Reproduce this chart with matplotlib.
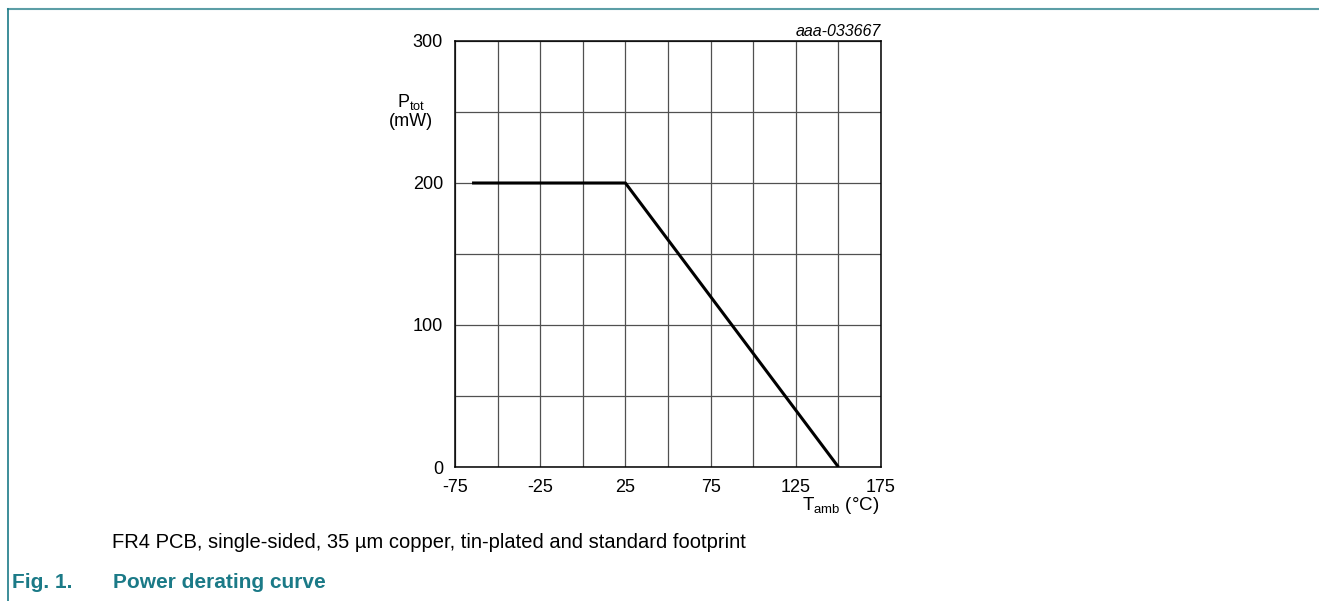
import matplotlib
matplotlib.use("Agg")
import matplotlib.pyplot as plt
from matplotlib.lines import Line2D

plt.rcParams['font.family'] = ['Liberation Sans', 'DejaVu Sans']

# Data
temp_c = [-65, 25, 150]
ptot_mw = [200, 200, 0]
x_ticks = [-75, -25, 25, 75, 125, 175]
y_ticks = [0, 100, 200, 300]
x_grid = [-75, -50, -25, 0, 25, 50, 75, 100, 125, 150, 175]
y_grid = [0, 50, 100, 150, 200, 250, 300]

W, H = 1319, 601
fig = plt.figure(figsize=(W / 100, H / 100), dpi=100)

ax = fig.add_axes([455 / W, 1 - 467 / H, (881 - 455) / W, (467 - 41) / H])
ax.set_xlim(-75, 175)
ax.set_ylim(0, 300)
ax.set_xticks(x_grid)
ax.set_xticklabels([str(v) if v in x_ticks else '' for v in x_grid])
ax.set_yticks(y_grid)
ax.set_yticklabels([str(v) if v in y_ticks else '' for v in y_grid])
ax.grid(True, color='#505050', linewidth=0.9)
ax.tick_params(axis='x', length=0, labelsize=13, pad=9.0)
ax.tick_params(axis='y', length=0, labelsize=13, pad=8.6)
for s in ax.spines.values():
    s.set_linewidth(1.1)
    s.set_color('black')
ax.plot(temp_c, ptot_mw, color='black', linewidth=2.2, solid_capstyle='butt', zorder=3)

# Labels
fig.text(881 / W, 1 - 31 / H, 'aaa-033667', ha='right', va='center',
         fontsize=11.5, style='italic')
fig.text(411 / W, 1 - 102 / H, r'P$_\mathregular{tot}$', ha='center', va='center', fontsize=13)
fig.text(411 / W, 1 - 121 / H, '(mW)', ha='center', va='center', fontsize=13)
fig.text(879 / W, 1 - 505 / H, r'T$_\mathregular{amb}$ (°C)', ha='right', va='center', fontsize=13.5)

fig.text(112 / W, 1 - 542 / H, 'FR4 PCB, single-sided, 35 µm copper, tin-plated and standard footprint',
         ha='left', va='center', fontsize=14.5)
teal = '#1b7a87'
fig.text(12 / W, 1 - 583 / H, 'Fig. 1.', ha='left', va='center', fontsize=15,
         fontweight='bold', color=teal)
fig.text(113 / W, 1 - 583 / H, 'Power derating curve', ha='left', va='center', fontsize=15,
         fontweight='bold', color=teal)

# Frame lines
fig.add_artist(Line2D([8 / W, 1], [1 - 9 / H, 1 - 9 / H], color='#5c9ea6', linewidth=1.5,
                      transform=fig.transFigure))
fig.add_artist(Line2D([8 / W, 8 / W], [0, 1 - 9 / H], color='#1b7a87', linewidth=1.2,
                      transform=fig.transFigure))

fig.savefig('out.png', dpi=100)
